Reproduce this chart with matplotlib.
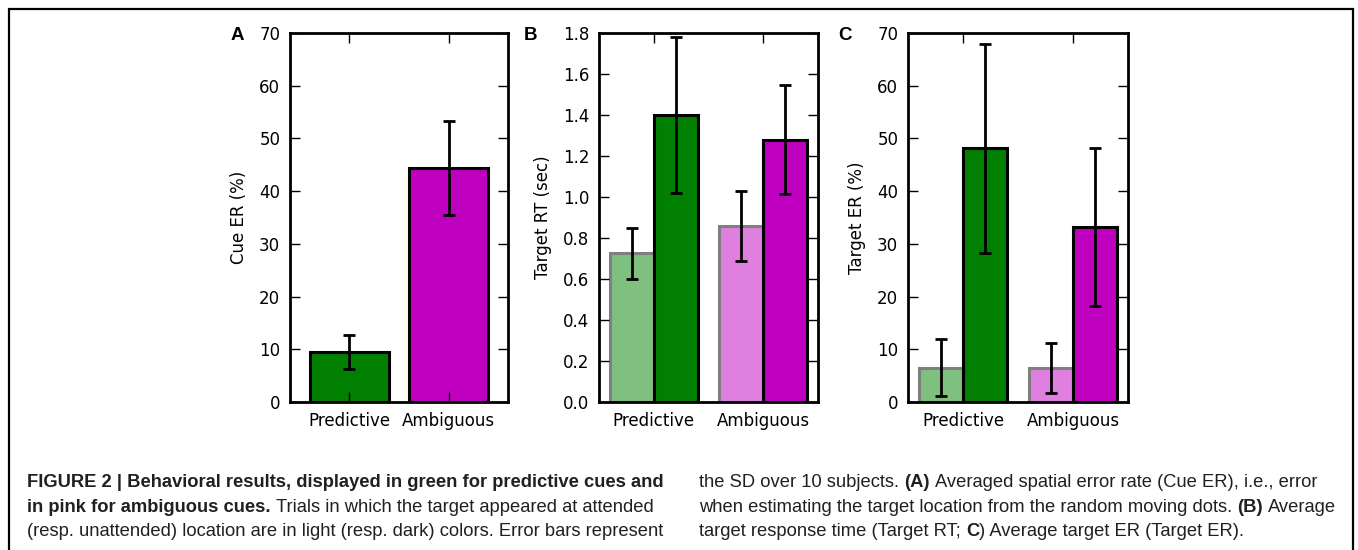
import matplotlib
matplotlib.use("Agg")
import matplotlib.pyplot as plt
from matplotlib import font_manager
from matplotlib.patches import Rectangle
import numpy as np

# data
groups = ["Predictive", "Ambiguous"]

cue_er = [9.5, 44.4]
cue_er_sd = [3.2, 8.9]

rt_attended = [0.725, 0.86]
rt_attended_sd = [0.125, 0.17]
rt_unattended = [1.40, 1.28]
rt_unattended_sd = [0.38, 0.265]

ter_attended = [6.5, 6.4]
ter_attended_sd = [5.4, 4.7]
ter_unattended = [48.1, 33.2]
ter_unattended_sd = [19.8, 15.0]

dark = ["#007f00", "#bf00bf"]
light = ["#7fbf7f", "#df7fdf"]

plt.rcParams["font.family"] = ["DejaVu Sans"]
plt.rcParams["font.size"] = 12
plt.rcParams["xtick.direction"] = "in"
plt.rcParams["ytick.direction"] = "in"
plt.rcParams["xtick.top"] = True
plt.rcParams["ytick.right"] = True

fig = plt.figure(figsize=(13.58, 5.5), dpi=100)
W, H = 1358.0, 550.0


def px_axes(left, right, top=33, bottom=402):
    return fig.add_axes([left / W, (H - bottom) / H, (right - left) / W, (bottom - top) / H])


def style(ax, ylabel):
    for s in ax.spines.values():
        s.set_linewidth(2)
    ax.tick_params(length=7, width=1, pad=7, labelsize=12)
    ax.set_ylabel(ylabel, fontsize=12, labelpad=8)


err_kw = dict(fmt="none", ecolor="k", elinewidth=2, capsize=4.5, capthick=2, zorder=5)
x = np.arange(len(groups))

# A
axA = px_axes(290, 508)
axA.bar(x, cue_er, width=0.8, color=dark, edgecolor="k", linewidth=2.2)
axA.errorbar(x, cue_er, yerr=cue_er_sd, **err_kw)
axA.set_xlim(-0.6, 1.6)
axA.set_ylim(0, 70)
axA.set_yticks(np.arange(0, 71, 10))
axA.set_xticks(x)
axA.set_xticklabels(groups)
style(axA, "Cue ER (%)")


def paired(ax, att, att_sd, unatt, unatt_sd):
    ax.bar(x - 0.4, att, width=0.4, align="edge", color=light, edgecolor="#7f7f7f", linewidth=2.2)
    ax.bar(x, unatt, width=0.4, align="edge", color=dark, edgecolor="k", linewidth=2.2)
    ax.errorbar(x - 0.2, att, yerr=att_sd, **err_kw)
    ax.errorbar(x + 0.2, unatt, yerr=unatt_sd, **err_kw)
    ax.set_xlim(-0.5, 1.5)
    ax.set_xticks(x)
    ax.set_xticklabels(groups)


# B
axB = px_axes(599, 818)
paired(axB, rt_attended, rt_attended_sd, rt_unattended, rt_unattended_sd)
axB.set_ylim(0, 1.8)
axB.set_yticks(np.arange(0, 1.81, 0.2))
axB.set_yticklabels(["%.1f" % v for v in np.arange(0, 1.81, 0.2)])
style(axB, "Target RT (sec)")

# C
axC = px_axes(908, 1128)
paired(axC, ter_attended, ter_attended_sd, ter_unattended, ter_unattended_sd)
axC.set_ylim(0, 70)
axC.set_yticks(np.arange(0, 71, 10))
style(axC, "Target ER (%)")

# panel letters
for lx, letter in [(231, "A"), (524, "B"), (838, "C")]:
    fig.text(lx / W, (H - 40) / H, letter, fontsize=13.5, fontweight="bold",
             family=["Liberation Sans", "DejaVu Sans"], va="baseline", ha="left")

# frame around the figure
fig.patches.append(Rectangle((8.5 / W, -0.05), 1344 / W, 1.05 - 9 / H, transform=fig.transFigure,
                             fill=False, edgecolor="k", linewidth=1.6, clip_on=False))

# caption
names = {f.name for f in font_manager.fontManager.ttflist}
cap_family = "Liberation Sans Narrow" if "Liberation Sans Narrow" in names else "Liberation Sans"
renderer = fig.canvas.get_renderer()


def text_width(s, size, bold):
    t = fig.text(0, 0, s, fontsize=size, family=cap_family, fontweight="bold" if bold else "normal")
    w = t.get_window_extent(renderer).width
    t.remove()
    return w


ref_line = "FIGURE 2 | Behavioral results, displayed in green for predictive cues and"
cap_size = 10 * 638 / text_width(ref_line, 10, True)


def rich_line(x0, y0, parts):
    xpos = x0
    sp = text_width("a a", cap_size, False) - text_width("aa", cap_size, False)
    for s, bold, space_after in parts:
        t = fig.text(xpos / W, (H - y0) / H, s, fontsize=cap_size, family=cap_family,
                     fontweight="bold" if bold else "normal", color="#231f20",
                     va="baseline", ha="left")
        xpos += t.get_window_extent(renderer).width + (sp if space_after else 0)


left_col = [
    [(ref_line, True, False)],
    [("in pink for ambiguous cues.", True, True),
     ("Trials in which the target appeared at attended", False, False)],
    [("(resp. unattended) location are in light (resp. dark) colors. Error bars represent", False, False)],
]
right_col = [
    [("the SD over 10 subjects.", False, True), ("(A)", True, True),
     ("Averaged spatial error rate (Cue ER), i.e., error", False, False)],
    [("when estimating the target location from the random moving dots.", False, True),
     ("(B)", True, True), ("Average", False, False)],
    [("target response time (Target RT;", False, True), ("C", True, False),
     (") Average target ER (Target ER).", False, False)],
]
for i, y0 in enumerate([487, 512, 536]):
    rich_line(27, y0, left_col[i])
    rich_line(699, y0, right_col[i])

fig.savefig("out.png", dpi=100)
